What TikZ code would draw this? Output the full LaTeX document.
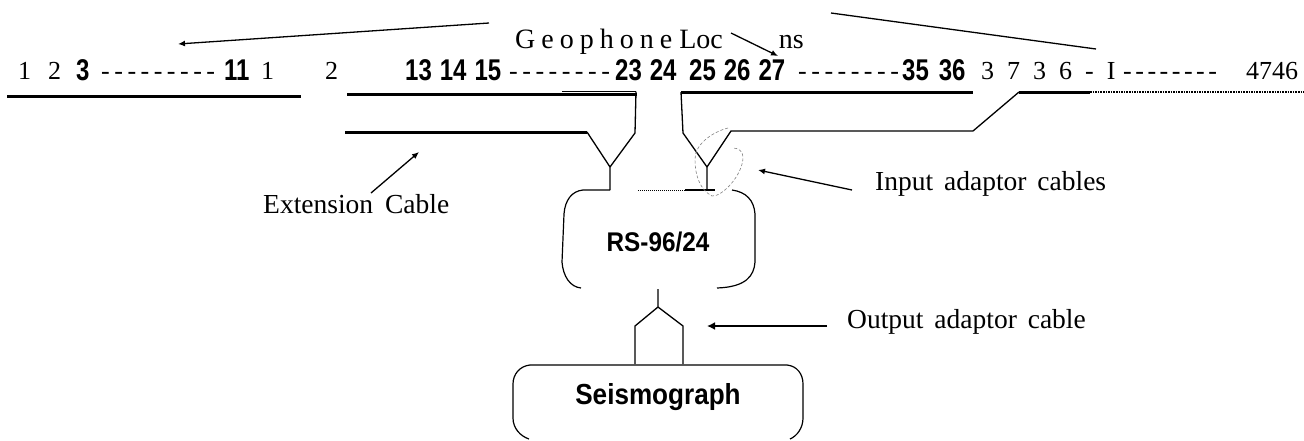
\documentclass[tikz,border=0pt]{standalone}
\usepackage{fontspec}
\usepackage{xcolor}
\setmainfont{Liberation Serif}
\newfontfamily\numfont[FakeStretch=0.8]{Liberation Sans Bold}
\newfontfamily\boxfont[FakeStretch=0.9]{Liberation Sans Bold}
\usetikzlibrary{arrows.meta}
\begin{document}
\begin{tikzpicture}[x=1pt,y=-1pt,lbl/.style={inner sep=0pt,anchor=base west,font=\fontsize{26}{28}\selectfont},note/.style={lbl,font=\fontsize{27.5}{30}\selectfont},num/.style={inner sep=0pt,anchor=base west,font=\fontsize{30}{32}\selectfont\numfont},unit/.style={inner sep=0pt,font=\fontsize{27}{30}\selectfont\boxfont},cable/.style={line width=3pt},wire/.style={line width=1.3pt,line join=round},outline/.style={line width=1.2pt},faint/.style={line width=.6pt,gray,densely dashed},ptr/.style={line width=1.3pt,-{Latex[length=7pt,width=6pt]}}]
\useasboundingbox (0,0) rectangle (1304,440);
% top row of locations
\node[lbl,font=\fontsize{28}{30}\selectfont] (geo) at (515,48) {\spaceskip=6pt G e o p h o n e\hspace{1pt} Loc\hspace{56pt}ns};
\node[lbl] (a1) at (18,79) {1};
\node[lbl] (a2) at (48,79) {2};
\node[num] (a3) at (76,80) {3};
\node[lbl] (a4) at (101,79) {\spaceskip=4.5pt - - - - - - - - -};
\node[num] (a5) at (224,80) {11};
\node[lbl] (a6) at (261,79) {1};
\node[lbl] (a7) at (325,79) {2};
\node[num] (b1) at (405,80) {\spaceskip=8pt 13 14 15};
\node[lbl] (b2) at (509,79) {\spaceskip=4.5pt - - - - - - - -};
\node[num] (b3) at (615,80) {\spaceskip=8pt 23 24};
\node[num] (c1) at (689,80) {\spaceskip=8pt 25 26 27};
\node[lbl] (c2) at (798,79) {\spaceskip=4.5pt - - - - - - - -};
\node[num] (c3) at (902,80) {\spaceskip=10pt 35 36};
\node[lbl] (d1) at (981,79) {3\hspace{13pt}7\hspace{13pt}3\hspace{13pt}6\hspace{13pt}-\hspace{13pt}I};
\node[lbl] (d2) at (1123,79) {\spaceskip=3.5pt - - - - - - - -};
\node[lbl] (d3) at (1246,79) {4746};
% labels and boxes
\node[note] (ext) at (263,213) {Extension\hspace{5pt} Cable};
\node[note] (inp) at (875,190) {Input\hspace{4pt} adaptor\hspace{4pt} cables};
\node[note] (out) at (847,328) {Output\hspace{4pt} adaptor\hspace{4pt} cable};
\node[unit] (rs) at (658,242) {RS-96/24};
\node[unit,font=\fontsize{29}{32}\selectfont\boxfont] (seis) at (658,397) {Seismograph};
% points of the cables
\coordinate (l1a) at (7,96);
\coordinate (l1b) at (301,96);
\coordinate (l2a) at (347,94);
\coordinate (l2b) at (637,94);
\coordinate (l2c) at (635,133);
\coordinate (l2d) at (562,91.5);
\coordinate (l2e) at (636,91.5);
\coordinate (l3a) at (345,132);
\coordinate (l3b) at (587,132);
\coordinate (ya) at (610,167);
\coordinate (yb) at (610,190);
\coordinate (l4a) at (681,92);
\coordinate (l4b) at (973,92);
\coordinate (l4c) at (683,133);
\coordinate (yc) at (707,167);
\coordinate (yd) at (707,190);
\coordinate (l5a) at (1019,92);
\coordinate (l5b) at (1090,92);
\coordinate (l5c) at (1304,92);
\coordinate (l5d) at (973,131);
\coordinate (l5e) at (731,131);
\coordinate (oa) at (658,289);
\coordinate (ob) at (658,307);
\coordinate (oc) at (635,326);
\coordinate (od) at (683,326);
\coordinate (oe) at (635,364);
\coordinate (of) at (683,364);
\draw[cable] (l1a)--(l1b);
\draw[cable] (l2a)--(l2b);
\draw[wire] (l2d)--(l2e);
\draw[cable] (l3a)--(l3b);
\draw[cable] (l4a)--(l4b);
\draw[cable] (l5a)--(l5b);
\draw[line width=1.6pt,densely dotted] (l5b)--(l5c);
\draw[wire] (l2e)--(l2c)--(ya)--(yb);
\draw[wire] (l3b)--(ya);
\draw[wire] (l4a)--(l4c)--(yc)--(yd);
\draw[wire] (yc)--(l5e)--(l5d)--(l5a);
\draw[wire] (oa)--(ob)--(oc)--(oe);
\draw[wire] (ob)--(od)--(of);
% outlines, open where the scan lost them
\draw[outline] (yb)--(583,190) .. controls (572,191) and (565,200) .. (564,214)--(562,262) .. controls (563,276) and (570,287) .. (581,288);
\draw[outline] (732,190) .. controls (746,192) and (754,200) .. (755,214)--(755,262) .. controls (754,276) and (746,287) .. (717,288);
\draw[outline] (685,190)--(715,190);
\draw[line width=1pt,densely dotted] (638,190)--(685,190);
\draw[outline] (530,365)--(787,365) .. controls (797,366) and (803,374) .. (803,384)--(803,418) .. controls (803,428) and (797,436) .. (790,439);
\draw[outline] (530,365) .. controls (520,366) and (513,374) .. (513,384)--(513,418) .. controls (513,428) and (520,436) .. (529,439);
% arrows
\coordinate (p1) at (489,23);
\coordinate (p2) at (178,44);
\coordinate (p3) at (731,33);
\coordinate (p4) at (778,56);
\coordinate (p5) at (831,13);
\coordinate (p6) at (1096,49);
\coordinate (p7) at (371,193);
\coordinate (p8) at (419,152);
\coordinate (p9) at (852,190);
\coordinate (p10) at (758,170);
\coordinate (p11) at (827,326);
\coordinate (p12) at (707,326);
\draw[ptr] (p1)--(p2);
\draw[ptr] (p3)--(p4);
\draw[wire] (p5)--(p6);
\draw[ptr] (p7)--(p8);
\draw[ptr] (p9)--(p10);
\draw[ptr,line width=2.5pt,-{Latex[length=8pt,width=8pt]}] (p11)--(p12);
% scribble round the adaptor
\draw[faint] (728,128) .. controls (712,132) and (694,145) .. (695,160) .. controls (695,175) and (700,190) .. (712,196) .. controls (722,197) and (743,175) .. (743,157) .. controls (743,151) and (738,148) .. (733,148);
\end{tikzpicture}
\end{document}
